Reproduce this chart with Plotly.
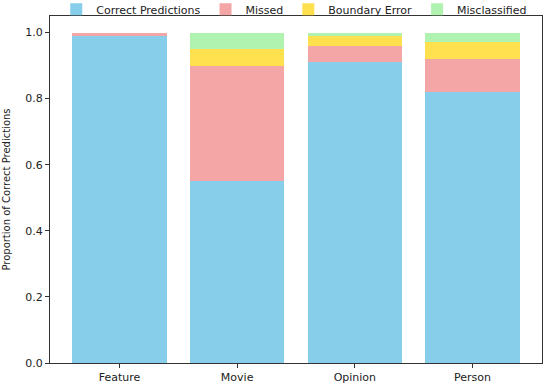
import plotly.graph_objects as go

categories = ["Feature", "Movie", "Opinion", "Person"]
correct = [0.99, 0.55, 0.91, 0.82]
missed = [0.01, 0.35, 0.05, 0.10]
boundary = [0.00, 0.05, 0.03, 0.05]
misclassified = [0.00, 0.05, 0.01, 0.03]

series = [
    ("Correct Predictions", correct, "#87CEEB"),
    ("Missed", missed, "#F4A6A6"),
    ("Boundary Error", boundary, "#FFE04F"),
    ("Misclassified", misclassified, "#B0F2B0"),
]

fig = go.Figure()
for name, vals, col in series:
    fig.add_trace(go.Bar(x=categories, y=vals, name=name, marker_color=col,
                         marker_line_width=0, width=0.8))

fig.update_layout(
    barmode="stack",
    width=550, height=384,
    margin=dict(l=50, r=8, t=16, b=21, autoexpand=False),
    plot_bgcolor="white", paper_bgcolor="white",
    font=dict(family="DejaVu Sans", size=11, color="#222"),
    legend=dict(orientation="h", traceorder="normal", x=0.535, xanchor="center",
                xref="container", yref="container", y=0.976, yanchor="middle",
                font=dict(size=11), itemwidth=30, bgcolor="rgba(0,0,0,0)"),
)
fig.update_xaxes(range=[-0.59, 3.59], showline=True, linecolor="#333", linewidth=1,
                 mirror=True, ticks="outside", ticklen=4, tickcolor="#333",
                 tickfont=dict(size=11), ticklabelstandoff=0)
fig.update_yaxes(range=[0, 1.05], showline=True, linecolor="#333", linewidth=1,
                 mirror=True, ticks="outside", ticklen=4, tickcolor="#333",
                 tickvals=[0, 0.2, 0.4, 0.6, 0.8, 1.0], tickformat=".1f",
                 showgrid=False, zeroline=False,
                 title=dict(text="Proportion of Correct Predictions", font=dict(size=10), standoff=12),
                 tickfont=dict(size=11))
fig.write_html("out.html", config={"displayModeBar": False},
               post_script="document.body.style.margin='0';document.body.style.overflow='hidden';")
